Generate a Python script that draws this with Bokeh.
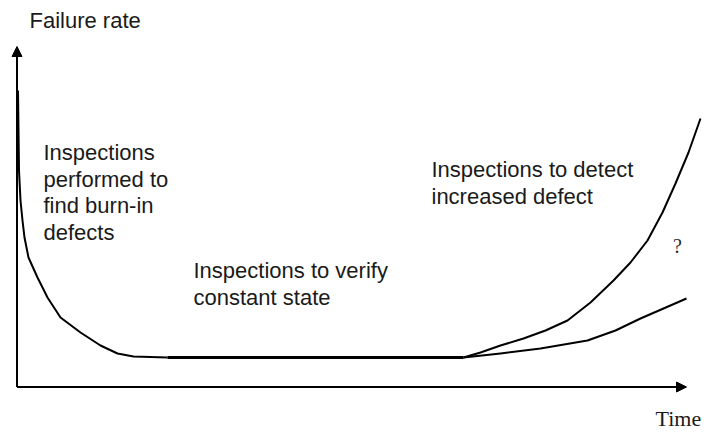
from bokeh.plotting import figure
from bokeh.models import Range1d, Arrow, NormalHead, ColumnDataSource
from bokeh.core.properties import value
from bokeh.embed import file_html
from bokeh.resources import INLINE

# ---- data (time, failure rate), origin at axes corner ----
burn_time = [1.0, 1.5, 2.0, 3.5, 5.5, 7.5, 11.5, 20.5, 30.5, 43.5, 63.5, 83.5, 100.5, 116.5, 150.5]
burn_rate = [296.5, 256.5, 216.5, 186.5, 166.5, 149.5, 129.5, 109.5, 89.5, 69.5, 54.5, 41.5, 33.5, 30.5, 29.5]

flat_time = [150.5, 446.5]
flat_rate = [29.5, 29.5]

wear_fast_time = [446.5, 463.5, 483.5, 506.5, 528.5, 550.5, 573.5, 596.5, 613.5, 630.5, 645.5, 658.5, 671.5, 683.5]
wear_fast_rate = [29.5, 34.5, 41.5, 48.5, 56.5, 66.5, 84.5, 106.5, 124.5, 146.5, 174.5, 203.5, 234.5, 268.5]

wear_slow_time = [446.5, 483.5, 523.5, 570.5, 598.5, 623.5, 669.5]
wear_slow_rate = [29.5, 33.5, 38.5, 46.5, 56.5, 68.5, 88.5]

axis_x_end = 669.5
axis_y_end = 340.5

y_title = "Failure rate"
x_title = "Time"
phase_labels = [
    ["Inspections", "performed to", "find burn-in", "defects"],
    ["Inspections to verify", "constant state"],
    ["Inspections to detect", "increased defect"],
]
question = "?"

# ---- figure: data units map 1:1 to pixels ----
W, H = 704, 433
X0 = 16.5   # origin pixel x relative to figure
Y0 = 386.5  # origin pixel y relative to figure
TEXT_SHIFT = 8  # empirical baseline correction

p = figure(width=W, height=H, output_backend="svg", toolbar_location=None,
           x_range=Range1d(-X0, W - X0), y_range=Range1d(-(H - Y0), Y0),
           x_axis_location=None, y_axis_location=None,
           min_border=0, min_border_left=0, min_border_right=0,
           min_border_top=0, min_border_bottom=0)
p.grid.visible = False
p.outline_line_color = None
p.background_fill_color = "white"
p.border_fill_color = "white"

# axes as arrows
p.add_layout(Arrow(end=NormalHead(size=10, fill_color="black", line_color="black"),
                   x_start=0, y_start=0, x_end=axis_x_end, y_end=0,
                   line_color="black", line_width=2))
p.add_layout(Arrow(end=NormalHead(size=10, fill_color="black", line_color="black"),
                   x_start=0, y_start=0, x_end=0, y_end=axis_y_end,
                   line_color="black", line_width=2))

# curves
p.line(burn_time, burn_rate, line_color="black", line_width=2, line_join="round")
p.line(flat_time, flat_rate, line_color="black", line_width=3)
p.line(wear_fast_time, wear_fast_rate, line_color="black", line_width=2, line_join="round")
p.line(wear_slow_time, wear_slow_rate, line_color="black", line_width=2, line_join="round")

# texts
sans = value("Liberation Sans")
serif = value("Liberation Serif")

def ty(baseline_px):
    return Y0 - (baseline_px - TEXT_SHIFT)

def tx(px):
    return px - X0

lab_x, lab_y, lab_t = [], [], []
starts = [(43, 160), (193, 278), (431, 177)]
for (sx, sb), lines in zip(starts, phase_labels):
    for i, t in enumerate(lines):
        lab_x.append(tx(sx))
        lab_y.append(ty(sb + i * 26.5))
        lab_t.append(t)
lab_x.append(tx(29)); lab_y.append(ty(28)); lab_t.append(y_title)

src = ColumnDataSource(dict(x=lab_x, y=lab_y, t=lab_t))
p.text(x="x", y="y", text="t", source=src, text_font=sans, text_font_size="22px",
       text_color="#1a1a1a", text_baseline="alphabetic", text_align="left")

p.text(x=[tx(655)], y=[ty(426)], text=[x_title], text_font=serif, text_font_size="22px",
       text_color="#1a1a1a", text_baseline="alphabetic", text_align="left")
p.text(x=[tx(677)], y=[Y0 - 245], text=[question], text_font=serif, text_font_size="20px",
       text_color="#2a2a2a", text_baseline="middle", text_align="center")

open("out.html", "w").write(file_html(p, INLINE))
